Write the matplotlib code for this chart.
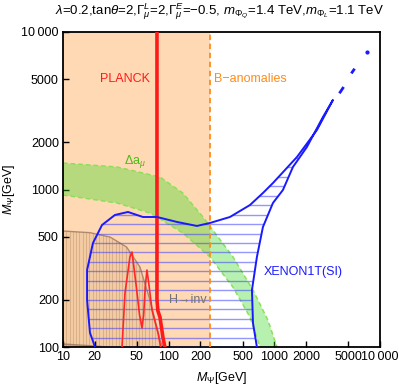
import numpy as np
import matplotlib
matplotlib.use('Agg')
import matplotlib.pyplot as plt
from matplotlib.patches import Polygon
from matplotlib.ticker import FixedLocator, FixedFormatter, NullLocator

plt.rcParams['font.family'] = ['Liberation Sans', 'DejaVu Sans']
plt.rcParams['mathtext.fontset'] = 'custom'
plt.rcParams['mathtext.rm'] = 'Liberation Sans'
plt.rcParams['mathtext.it'] = 'Liberation Sans:italic'
plt.rcParams['mathtext.bf'] = 'Liberation Sans:bold'

# ---------------- data ----------------
x_ticks = [10, 20, 50, 100, 200, 500, 1000, 2000, 5000, 10000]
x_tick_labels = ['10', '20', '50', '100', '200', '500', '1000', '2000', '5000', '10\u2009000']
y_ticks = [100, 200, 500, 1000, 2000, 5000, 10000]
y_tick_labels = ['100', '200', '500', '1000', '2000', '5000', '10\u2009000']

b_anomaly_x = 245

planck_x = [77.5, 77.5, 77.5, 79, 82.7, 88.3, 92]
planck_y = [10000, 400, 200, 170, 155, 115, 100]
planck_thin_x = [36.2, 38.6, 43.0, 45.0, 49.1, 53, 55.9, 58, 60, 62.3, 65, 69.5, 79.2, 84]
planck_thin_y = [100, 220, 373, 401, 250, 160, 132, 160, 240, 308, 250, 172, 123, 100]

hinv_x = [10, 18, 27.9, 40, 53.5, 66.5, 82.8, 88]
hinv_y = [545, 532, 499, 431, 322, 199, 111, 100]
hinv_low_x = [10, 20, 26]
hinv_low_y = [104.5, 101.5, 100]

amu_up_x = [10, 32.4, 82.7, 136, 211, 406, 628, 869, 1059]
amu_up_y = [1472, 1390, 1200, 950, 669, 373, 230, 148, 100]
amu_lo_x = [10, 32.4, 66.5, 136, 246, 406, 588, 731]
amu_lo_y = [923, 821, 709, 530, 373, 240, 155, 100]

xenon_x = [20.1, 18.0, 16.9, 16.9, 19.2, 23.4, 31.0, 41.2, 57.1, 77.5, 120, 185, 246, 380,
           588, 780, 970, 1637, 2530, 3584, 2884, 2034, 1500, 1206, 970, 780, 684, 614, 628, 684]
xenon_y = [100, 123, 199, 308, 457, 595, 689, 720, 669, 669, 622, 587, 613, 669,
           797, 950, 1099, 1608, 2386, 3700, 2884, 1862, 1390, 993, 821, 578, 373, 230, 142, 100]
xenon_tip_x = [4200, 4450, 5450, 5650, 7500]
xenon_tip_y = [4150, 4400, 5550, 5750, 7450]

# ---------------- figure ----------------
W, H = 399, 389
fig = plt.figure(figsize=(W / 100, H / 100), dpi=100)
ax = fig.add_axes([63 / W, 42 / H, 317 / W, 315 / H])
ax.set_xscale('log')
ax.set_yscale('log')
ax.set_xlim(10, 10000)
ax.set_ylim(100, 10000)

peach = (1.0, 0.85, 0.70)
# B-anomalies region
ax.axvspan(10, b_anomaly_x, color=peach, lw=0, zorder=0)
ax.axvline(b_anomaly_x, color=(1.0, 0.55, 0.1), lw=1.3, ls=(0, (3, 2)), zorder=6)

# H -> inv region
hv = list(zip(hinv_x, hinv_y)) + [(hinv_x[-1], 100), (10, 100)]
hpatch = Polygon(hv, closed=True, facecolor=(0.6, 0.4, 0.2, 0.12), edgecolor='none', zorder=1)
ax.add_patch(hpatch)
for xv in 10 ** np.arange(1.0, 2.0, 3.3 / 105.7):
    ln = ax.axvline(xv, color=(0.72, 0.52, 0.38, 0.45), lw=0.6, zorder=1.1)
    ln.set_clip_path(hpatch)
ax.plot(hinv_x, hinv_y, color=(0.6, 0.45, 0.35, 0.75), lw=1.0, zorder=1.2)
lv = list(zip(hinv_low_x, hinv_low_y)) + [(10, 100)]
ax.add_patch(Polygon(lv, closed=True, facecolor=(0.6, 0.4, 0.2, 0.3), edgecolor='none', zorder=1.2))
ax.plot(hinv_low_x, hinv_low_y, color=(0.6, 0.45, 0.35, 0.75), lw=1.0, zorder=1.2)

# Delta a_mu band
gv = list(zip(amu_up_x, amu_up_y)) + list(zip(amu_lo_x, amu_lo_y))[::-1]
ax.add_patch(Polygon(gv, closed=True, facecolor=(0.2, 0.85, 0.1, 0.35), edgecolor='none', zorder=2))
gdash = (0.55, 0.88, 0.35)
ax.plot(amu_up_x, amu_up_y, color=gdash, lw=1.1, ls=(0, (3, 2)), zorder=2.1)
ax.plot(amu_lo_x, amu_lo_y, color=gdash, lw=1.1, ls=(0, (3, 2)), zorder=2.1)

# XENON1T region
xpatch = Polygon(list(zip(xenon_x, xenon_y)), closed=True, fill=False, lw=0, zorder=3)
ax.add_patch(xpatch)
for yv in 10 ** np.arange(2.0, 4.0, 9.45 / 157.5):
    ln = ax.axhline(yv, color=(0.25, 0.25, 1.0, 0.55), lw=1.0, zorder=3)
    ln.set_clip_path(xpatch)
ax.plot(xenon_x, xenon_y, color=(0.1, 0.1, 1.0), lw=1.4, zorder=5)
ax.plot(xenon_tip_x[:2], xenon_tip_y[:2], color=(0.1, 0.1, 1.0), lw=2.0, zorder=5)
ax.plot(xenon_tip_x[2:4], xenon_tip_y[2:4], color=(0.1, 0.1, 1.0), lw=2.0, zorder=5)
ax.plot(xenon_tip_x[4:], xenon_tip_y[4:], 'o', color=(0.1, 0.1, 1.0), ms=2.0, zorder=5)

# PLANCK
ax.plot(planck_thin_x, planck_thin_y, color=(1.0, 0.15, 0.15), lw=1.2, zorder=4)
ax.plot(planck_x, planck_y, color=(1.0, 0.1, 0.1), lw=2.6, zorder=4.5)

# labels in plot
def axfrac(px, py):
    return ((px - 63) / 317, (347 - py) / 315)

fs = 9
ax.text(*axfrac(100, 79), 'PLANCK', color=(1.0, 0.1, 0.1), fontsize=fs, va='center', ha='left',
        transform=ax.transAxes, zorder=7)
ax.text(*axfrac(214, 79), 'B\u2212anomalies', color=(1.0, 0.55, 0.1), fontsize=fs, va='center',
        ha='left', transform=ax.transAxes, zorder=7)
ax.text(*axfrac(124, 161), r'$\Delta\mathrm{a}_\mu$', color=(0.3, 0.72, 0.1), fontsize=fs,
        va='center', ha='left', transform=ax.transAxes, zorder=7)
ax.text(*axfrac(169, 300), 'H\u2192inv', color=(0.45, 0.45, 0.45), fontsize=fs, va='center',
        ha='left', transform=ax.transAxes, zorder=7)
ax.text(*axfrac(264, 272), 'XENON1T(SI)', color=(0.1, 0.1, 1.0), fontsize=fs, va='center',
        ha='left', transform=ax.transAxes, zorder=7)

# axes styling
ax.xaxis.set_major_locator(FixedLocator(x_ticks))
ax.xaxis.set_major_formatter(FixedFormatter(x_tick_labels))
ax.xaxis.set_minor_locator(NullLocator())
ax.yaxis.set_major_locator(FixedLocator(y_ticks))
ax.yaxis.set_major_formatter(FixedFormatter(y_tick_labels))
ax.yaxis.set_minor_locator(NullLocator())
ax.tick_params(direction='in', length=4, width=1.0, labelsize=9, pad=3,
               top=False, right=False)
for s in ax.spines.values():
    s.set_linewidth(1.3)

ax.set_xlabel(r'$M_\Psi$[GeV]', fontsize=9, labelpad=5)
ax.set_ylabel(r'$M_\Psi$[GeV]', fontsize=9, labelpad=3)

fig.text(220 / W, 1 - 12 / H,
         r'$\lambda$=0.2,tan$\theta$=2,$\Gamma^L_\mu$=2,$\Gamma^E_\mu$=$-$0.5, '
         r'$m_{\Phi_Q}$=1.4 TeV,$m_{\Phi_L}$=1.1 TeV',
         fontsize=9.5, ha='center', va='center')

fig.savefig('out.png', dpi=100)
